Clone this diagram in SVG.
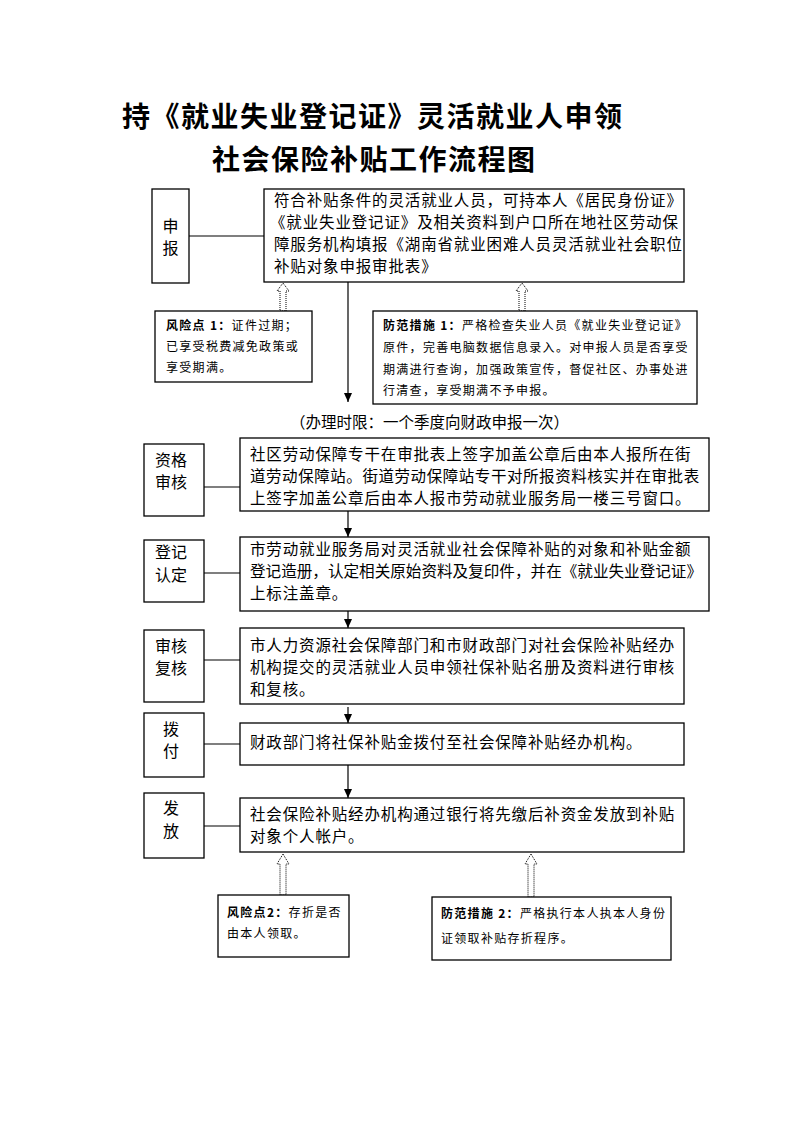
<svg xmlns="http://www.w3.org/2000/svg" width="793" height="1122" viewBox="0 0 793 1122">
<style>
.bx{fill:#fff;stroke:#000;stroke-width:1.3}
.ln{stroke:#000;stroke-width:1.2;fill:none}
.ho{fill:#fff;stroke:#000;stroke-width:1;stroke-dasharray:1 1}
.t{font-family:"Noto Sans CJK SC","Noto Sans",sans-serif;font-size:15.5px;letter-spacing:0.85px;fill:#000}
.s{font-family:"Noto Sans CJK SC","Noto Sans",sans-serif;font-size:16px;fill:#000;text-anchor:middle}
.m{font-family:"Noto Sans CJK SC","Noto Sans",sans-serif;font-size:12px;letter-spacing:1.3px;fill:#000}
.b{font-weight:bold}
.ti{font-family:"Noto Sans CJK SC","Noto Sans",sans-serif;font-size:28px;font-weight:bold;letter-spacing:1.5px;fill:#000}
</style>
<defs>
<marker id="ah" markerWidth="9" markerHeight="8" refX="9" refY="4" orient="auto" markerUnits="userSpaceOnUse" viewBox="0 0 9 8">
<path d="M0,0 L9,4 L0,8 Z" fill="#000"/>
</marker>
</defs>
<g id="title">
<text class="ti" x="122" y="127">持《就业失业登记证》灵活就业人申领</text>
<text class="ti" x="212" y="170">社会保险补贴工作流程图</text>
</g>
<g id="connectors">
<line class="ln" x1="189" y1="236" x2="264" y2="236"/>
<line class="ln" x1="348" y1="282" x2="348" y2="402" marker-end="url(#ah)"/>
<line class="ln" x1="204" y1="487" x2="240" y2="487"/>
<line class="ln" x1="348" y1="511" x2="348" y2="537" marker-end="url(#ah)"/>
<line class="ln" x1="204" y1="573" x2="240" y2="573"/>
<line class="ln" x1="348" y1="611" x2="348" y2="628" marker-end="url(#ah)"/>
<line class="ln" x1="204" y1="660" x2="240" y2="660"/>
<line class="ln" x1="348" y1="707" x2="348" y2="723" marker-end="url(#ah)"/>
<line class="ln" x1="204" y1="744" x2="240" y2="744"/>
<line class="ln" x1="348" y1="765" x2="348" y2="798" marker-end="url(#ah)"/>
<line class="ln" x1="204" y1="826" x2="240" y2="826"/>
<polygon class="ho" points="283,283 289,291 286,291 286,311 280,311 280,291 277,291"/>
<polygon class="ho" points="522,283 528,291 525,291 525,311 519,311 519,291 516,291"/>
<polygon class="ho" points="283,854 289,864 286,864 286,895 280,895 280,864 277,864"/>
<polygon class="ho" points="531,854 537,864 534,864 534,897 528,897 528,864 525,864"/>
</g>
<g id="n-shenbao">
<rect class="bx" x="152" y="189" width="37" height="94"/>
<text class="s" x="170.5" y="232">申</text>
<text class="s" x="170.5" y="254">报</text>
</g>
<g id="n-step1">
<rect class="bx" x="264" y="189" width="420" height="93"/>
<text class="t" x="274" y="206">符合补贴条件的灵活就业人员，可持本人《居民身份证》</text>
<text class="t" x="270" y="228">《就业失业登记证》及相关资料到户口所在地社区劳动保</text>
<text class="t" x="274" y="250">障服务机构填报《湖南省就业困难人员灵活就业社会职位</text>
<text class="t" x="274" y="272">补贴对象申报审批表》</text>
</g>
<g id="n-risk1">
<rect class="bx" x="155" y="311" width="157" height="71"/>
<text class="m" x="166" y="330"><tspan class="b">风险点 1：</tspan>证件过期；</text>
<text class="m" x="166" y="351">已享受税费减免政策或</text>
<text class="m" x="166" y="372">享受期满。</text>
</g>
<g id="n-measure1">
<rect class="bx" x="373" y="311" width="324" height="93"/>
<text class="m" x="383" y="330"><tspan class="b">防范措施 1：</tspan>严格检查失业人员《就业失业登记证》</text>
<text class="m" x="383" y="352">原件，完善电脑数据信息录入。对申报人员是否享受</text>
<text class="m" x="383" y="374">期满进行查询，加强政策宣传，督促社区、办事处进</text>
<text class="m" x="383" y="395">行清查，享受期满不予申报。</text>
</g>
<g id="n-time">
<text class="t" x="290" y="428" style="font-size:15.5px;letter-spacing:0">（办理时限：一个季度向财政申报一次）</text>
</g>
<g id="n-zige">
<rect class="bx" x="144" y="444" width="60" height="72"/>
<text class="s" x="171" y="466">资格</text>
<text class="s" x="171" y="488">审核</text>
</g>
<g id="n-step2">
<rect class="bx" x="240" y="438" width="469" height="73"/>
<text class="t" x="250" y="460">社区劳动保障专干在审批表上签字加盖公章后由本人报所在街</text>
<text class="t" x="250" y="482" textLength="450" lengthAdjust="spacing">道劳动保障站。街道劳动保障站专干对所报资料核实并在审批表</text>
<text class="t" x="250" y="504">上签字加盖公章后由本人报市劳动就业服务局一楼三号窗口。</text>
</g>
<g id="n-dengji">
<rect class="bx" x="144" y="540" width="60" height="62"/>
<text class="s" x="171" y="558">登记</text>
<text class="s" x="171" y="581">认定</text>
</g>
<g id="n-step3">
<rect class="bx" x="240" y="537" width="469" height="74"/>
<text class="t" x="250" y="555">市劳动就业服务局对灵活就业社会保障补贴的对象和补贴金额</text>
<text class="t" x="250" y="577" textLength="452" lengthAdjust="spacingAndGlyphs" style="letter-spacing:0">登记造册，认定相关原始资料及复印件，并在《就业失业登记证》</text>
<text class="t" x="250" y="599">上标注盖章。</text>
</g>
<g id="n-shenhe">
<rect class="bx" x="144" y="630" width="60" height="72"/>
<text class="s" x="171" y="652">审核</text>
<text class="s" x="171" y="674">复核</text>
</g>
<g id="n-step4">
<rect class="bx" x="240" y="628" width="444" height="76"/>
<text class="t" x="250" y="651">市人力资源社会保障部门和市财政部门对社会保险补贴经办</text>
<text class="t" x="250" y="673">机构提交的灵活就业人员申领社保补贴名册及资料进行审核</text>
<text class="t" x="250" y="695">和复核。</text>
</g>
<g id="n-bofu">
<rect class="bx" x="144" y="713" width="60" height="64"/>
<text class="s" x="171" y="735">拨</text>
<text class="s" x="171" y="757">付</text>
</g>
<g id="n-step5">
<rect class="bx" x="240" y="723" width="444" height="42"/>
<text class="t" x="250" y="748">财政部门将社保补贴金拨付至社会保障补贴经办机构。</text>
</g>
<g id="n-fafang">
<rect class="bx" x="144" y="793" width="60" height="65"/>
<text class="s" x="171" y="814">发</text>
<text class="s" x="171" y="837">放</text>
</g>
<g id="n-step6">
<rect class="bx" x="240" y="798" width="444" height="54"/>
<text class="t" x="250" y="820">社会保险补贴经办机构通过银行将先缴后补资金发放到补贴</text>
<text class="t" x="250" y="842">对象个人帐户。</text>
</g>
<g id="n-risk2">
<rect class="bx" x="218" y="895" width="131" height="62"/>
<text class="m" x="227" y="917"><tspan class="b">风险点2：</tspan>存折是否</text>
<text class="m" x="227" y="938">由本人领取。</text>
</g>
<g id="n-measure2">
<rect class="bx" x="432" y="897" width="239" height="63"/>
<text class="m" x="441" y="918"><tspan class="b">防范措施 2：</tspan>严格执行本人执本人身份</text>
<text class="m" x="441" y="943">证领取补贴存折程序。</text>
</g>
</svg>
